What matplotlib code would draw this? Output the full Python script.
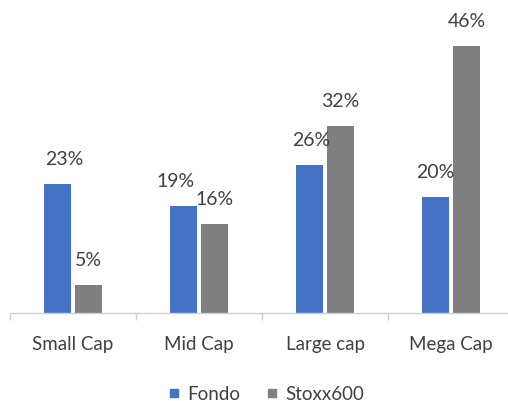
import matplotlib
matplotlib.use("Agg")
import matplotlib.pyplot as plt
from matplotlib.lines import Line2D
import numpy as np

plt.rcParams['font.family'] = ['Lato', 'DejaVu Sans']

# Data
categories = ["Small Cap", "Mid Cap", "Large cap", "Mega Cap"]
fondo = [22.5, 18.6, 25.7, 20.2]
stoxx = [4.9, 15.5, 32.5, 46.5]
fondo_labels = ["23%", "19%", "26%", "20%"]
stoxx_labels = ["5%", "16%", "32%", "46%"]

BLUE = "#4472C4"
GREY = "#7F7F7F"
TEXT = "#404040"

fig = plt.figure(figsize=(5.08, 4.02), dpi=100)
# plot area runs a little past the right edge, like the original
ax = fig.add_axes([10 / 508, 88 / 402, 504 / 508, 314 / 402])

x = np.arange(len(categories))
w = 0.218
off = 0.125
b1 = ax.bar(x - off, fondo, w, color=BLUE)
b2 = ax.bar(x + off, stoxx, w, color=GREY)

ax.set_xlim(-0.5, len(categories) - 0.5)
ax.set_ylim(0, 54.7)

# data labels (a couple nudged sideways as in the original)
fondo_shift = [7, -8, 2, 0]
for rect, lab, dx in zip(b1, fondo_labels, fondo_shift):
    ax.annotate(lab, (rect.get_x() + rect.get_width() / 2, rect.get_height()),
                xytext=(dx, 20), textcoords="offset pixels",
                ha="center", va="baseline", fontsize=14, color=TEXT)
for rect, lab in zip(b2, stoxx_labels):
    ax.annotate(lab, (rect.get_x() + rect.get_width() / 2, rect.get_height()),
                xytext=(0, 20), textcoords="offset pixels",
                ha="center", va="baseline", fontsize=14, color=TEXT)

# axes styling
for s in ["top", "right", "left"]:
    ax.spines[s].set_visible(False)
ax.spines["bottom"].set_color("#D0D0D0")
ax.spines["bottom"].set_linewidth(1)
ax.set_yticks([])
ax.set_xticks(x)
ax.set_xticklabels(categories, fontsize=13.5, color=TEXT)
ax.tick_params(axis="x", which="major", length=0, pad=16)
ax.set_xticks(np.arange(-0.5, len(categories), 1), minor=True)
ax.tick_params(axis="x", which="minor", length=5, color="#D0D0D0", width=1)

handles = [Line2D([], [], marker="s", linestyle="", color=BLUE, markersize=5.5),
           Line2D([], [], marker="s", linestyle="", color=GREY, markersize=5.5)]
fig.legend(handles, ["Fondo", "Stoxx600"], loc="lower center",
           bbox_to_anchor=(266 / 508, -0.045), ncol=2, frameon=False,
           fontsize=13.5, handlelength=0.6, handletextpad=0.4,
           columnspacing=1.4, labelcolor=TEXT)

fig.savefig("out.png", dpi=100)
